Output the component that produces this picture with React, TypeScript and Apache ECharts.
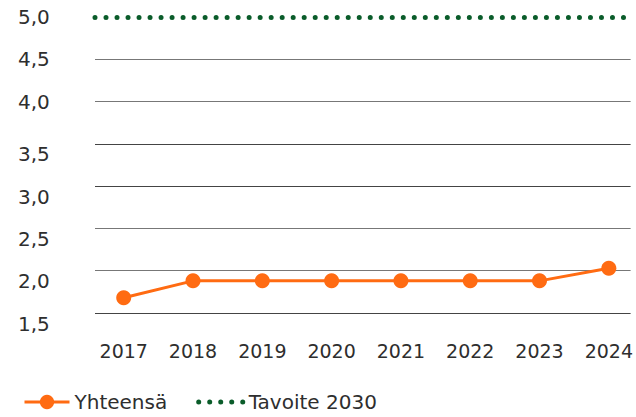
import React, { useEffect, useRef } from "react";
import * as echarts from "echarts";

const years = [2017, 2018, 2019, 2020, 2021, 2022, 2023, 2024];
const totalValues = [1.68, 1.88, 1.88, 1.88, 1.88, 1.88, 1.88, 2.03];
const targetValue = 5.0;
const seriesNames = ["Yhteensä", "Tavoite 2030"];

const ORANGE = "#ff6b12";
const GREEN = "#0a5c2a";
const FONT = "DejaVu Sans";
const TEXT = "#2e2e2e";

export default function App() {
  const ref = useRef<HTMLDivElement>(null);
  useEffect(() => {
    if (!ref.current) return;
    const chart = echarts.init(ref.current, undefined, { renderer: "svg" });
    chart.setOption({
      animation: false,
      textStyle: { fontFamily: FONT },
      grid: { left: 95, right: 0, top: 17, bottom: 104, containLabel: false },
      legend: {
        left: 18,
        bottom: 0,
        itemWidth: 45,
        itemHeight: 18,
        itemGap: 29,
        textStyle: { fontSize: 20, color: TEXT, fontFamily: FONT },
        data: [
          { name: seriesNames[0], lineStyle: { color: ORANGE, width: 3 } },
          {
            name: seriesNames[1],
            itemStyle: { opacity: 0 },
            lineStyle: { color: GREEN, width: 5, type: [0.01, 11], cap: "round" },
          },
        ],
      },
      xAxis: {
        type: "value",
        min: years[0] - 29 / 70,
        max: years[years.length - 1] + 22 / 70,
        splitLine: { show: false },
        axisLine: { show: false },
        axisTick: { show: false },
        axisLabel: {
          customValues: years,
          formatter: (v: number) => String(v),
          fontSize: 19,
          color: TEXT,
          margin: 28,
          fontFamily: FONT,
        },
      },
      yAxis: {
        type: "value",
        min: 1.5,
        max: 5,
        interval: 0.5,
        axisLine: { show: false },
        axisTick: { show: false },
        splitLine: {
          lineStyle: {
            color: ["#444", "#777", "#777", "#444", "#444", "#777", "#777", "rgba(0,0,0,0)"],
            width: 1,
          },
        },
        axisLabel: {
          align: "left",
          margin: 77,
          fontSize: 20,
          color: TEXT,
          fontFamily: FONT,
          formatter: (v: number) => {
            const s = v.toFixed(1).replace(".", ",");
            return v <= 3.5 ? "{low|" + s + "}" : s;
          },
          rich: {
            low: { fontSize: 20, color: TEXT, fontFamily: FONT, padding: [21, 0, 0, 0] },
          },
        },
      },
      series: [
        {
          name: seriesNames[0],
          type: "line",
          data: years.map((y, i) => [y, totalValues[i]]),
          symbol: "circle",
          symbolSize: 15,
          itemStyle: { color: ORANGE },
          lineStyle: { color: ORANGE, width: 3 },
        },
        {
          name: seriesNames[1],
          type: "line",
          data: [],
          symbol: "none",
          itemStyle: { color: GREEN },
          lineStyle: { color: GREEN, width: 5, type: [0.01, 11], cap: "round" },
          markLine: {
            silent: true,
            symbol: "none",
            label: { show: false },
            lineStyle: { color: GREEN, width: 5, type: [0.01, 11], cap: "round" },
            data: [{ yAxis: targetValue }],
          },
        },
      ],
    });
    return () => chart.dispose();
  }, []);
  return <div ref={ref} style={{ width: 636, height: 417, position: "absolute", left: 0, top: 0 }} />;
}
